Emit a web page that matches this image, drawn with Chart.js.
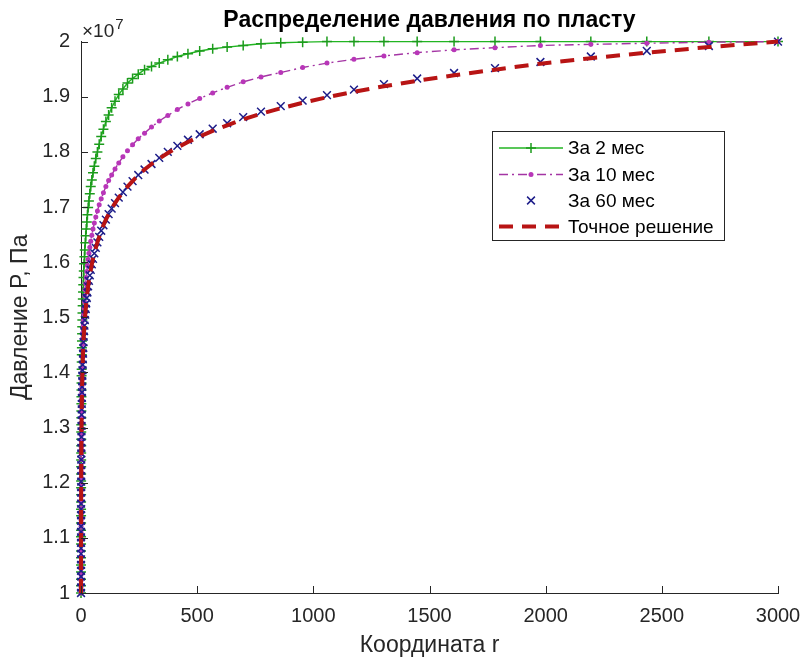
<!DOCTYPE html>
<html>
<head>
<meta charset="utf-8">
<title>Распределение давления по пласту</title>
<script src="https://cdn.jsdelivr.net/npm/chart.js"></script>
<style>
  html, body { margin: 0; padding: 0; background: #fff; }
</style>
</head>
<body>
<canvas id="pressureChart" width="803" height="659"></canvas>
<script>
// координата r, м (логарифмическая сетка)
const radius = [
  0.1, 0.111, 0.123, 0.137, 0.152, 0.168, 0.187, 0.207, 0.23, 0.255,
  0.283, 0.314, 0.349, 0.387, 0.43, 0.477, 0.529, 0.587, 0.652, 0.723,
  0.803, 0.891, 0.988, 1.097, 1.217, 1.351, 1.499, 1.663, 1.846, 2.048,
  2.273, 2.522, 2.799, 3.106, 3.447, 3.825, 4.245, 4.711, 5.228, 5.801,
  6.438, 7.144, 7.928, 8.798, 9.767, 10.84, 12.03, 13.35, 14.81, 16.44,
  18.24, 20.24, 22.47, 24.93, 27.67, 30.7, 34.07, 37.81, 41.96, 46.57,
  51.68, 57.35, 63.64, 70.62, 78.37, 86.97, 96.52, 107.1, 118.9, 131.9,
  146.4, 162.5, 180.3, 200.1, 222, 246.4, 273.5, 303.5, 336.8, 373.7,
  414.8, 460.3, 510.8, 566.8, 629, 698.1, 774.7, 859.7, 954, 1058.7,
  1174.9, 1303.8, 1446.9, 1605.7, 1781.9, 1977.4, 2194.4, 2435.2, 2702.5, 3000
];

// давление, x10^7 Па
const p2months = [
  1.000, 1.013, 1.025, 1.038, 1.051, 1.064, 1.076, 1.089, 1.102, 1.114,
  1.127, 1.140, 1.152, 1.165, 1.178, 1.191, 1.203, 1.216, 1.229, 1.241,
  1.254, 1.267, 1.279, 1.292, 1.305, 1.318, 1.330, 1.343, 1.356, 1.368,
  1.381, 1.394, 1.406, 1.419, 1.432, 1.445, 1.457, 1.470, 1.483, 1.495,
  1.508, 1.521, 1.533, 1.546, 1.559, 1.572, 1.584, 1.597, 1.610, 1.622,
  1.635, 1.648, 1.660, 1.673, 1.686, 1.699, 1.711, 1.724, 1.737, 1.749,
  1.762, 1.774, 1.788, 1.800, 1.814, 1.828, 1.841, 1.855, 1.867, 1.880,
  1.892, 1.904, 1.914, 1.925, 1.933, 1.941, 1.949, 1.955, 1.961, 1.967,
  1.973, 1.978, 1.983, 1.987, 1.990, 1.993, 1.996, 1.998, 1.999, 2.000,
  2.000, 2.000, 2.000, 2.000, 2.000, 2.000, 2.000, 2.000, 2.000, 2.000
];

const p10months = [
  1.000, 1.011, 1.022, 1.033, 1.044, 1.055, 1.066, 1.077, 1.088, 1.099,
  1.110, 1.121, 1.132, 1.143, 1.154, 1.165, 1.176, 1.187, 1.198, 1.209,
  1.220, 1.231, 1.242, 1.253, 1.264, 1.275, 1.286, 1.297, 1.308, 1.319,
  1.330, 1.341, 1.352, 1.363, 1.374, 1.385, 1.396, 1.407, 1.418, 1.429,
  1.440, 1.451, 1.462, 1.473, 1.484, 1.495, 1.506, 1.517, 1.528, 1.539,
  1.550, 1.561, 1.572, 1.583, 1.594, 1.605, 1.616, 1.627, 1.638, 1.649,
  1.660, 1.671, 1.682, 1.693, 1.704, 1.715, 1.726, 1.737, 1.748, 1.758,
  1.769, 1.780, 1.791, 1.802, 1.813, 1.824, 1.834, 1.845, 1.856, 1.866,
  1.877, 1.887, 1.897, 1.907, 1.917, 1.927, 1.936, 1.944, 1.953, 1.961,
  1.968, 1.974, 1.980, 1.985, 1.989, 1.993, 1.995, 1.997, 1.999, 2.000
];

const p60months = [
  1.000, 1.010, 1.020, 1.030, 1.040, 1.051, 1.061, 1.071, 1.081, 1.091,
  1.101, 1.111, 1.121, 1.131, 1.141, 1.152, 1.162, 1.172, 1.182, 1.192,
  1.202, 1.212, 1.222, 1.232, 1.242, 1.253, 1.263, 1.273, 1.283, 1.293,
  1.303, 1.313, 1.323, 1.333, 1.343, 1.354, 1.364, 1.374, 1.384, 1.394,
  1.404, 1.414, 1.424, 1.434, 1.444, 1.455, 1.465, 1.475, 1.485, 1.495,
  1.505, 1.515, 1.525, 1.535, 1.545, 1.556, 1.566, 1.576, 1.586, 1.596,
  1.606, 1.616, 1.626, 1.636, 1.646, 1.657, 1.667, 1.677, 1.687, 1.697,
  1.707, 1.717, 1.727, 1.737, 1.747, 1.758, 1.768, 1.778, 1.789, 1.800,
  1.811, 1.822, 1.832, 1.842, 1.852, 1.863, 1.873, 1.883, 1.893, 1.903,
  1.913, 1.923, 1.933, 1.943, 1.952, 1.963, 1.973, 1.983, 1.992, 2.000
];

const pExact = [
  1.000, 1.010, 1.020, 1.030, 1.040, 1.051, 1.061, 1.071, 1.081, 1.091,
  1.101, 1.111, 1.121, 1.131, 1.141, 1.152, 1.162, 1.172, 1.182, 1.192,
  1.202, 1.212, 1.222, 1.232, 1.242, 1.253, 1.263, 1.273, 1.283, 1.293,
  1.303, 1.313, 1.323, 1.333, 1.343, 1.354, 1.364, 1.374, 1.384, 1.394,
  1.404, 1.414, 1.424, 1.434, 1.444, 1.455, 1.465, 1.475, 1.485, 1.495,
  1.505, 1.515, 1.525, 1.535, 1.545, 1.556, 1.566, 1.576, 1.586, 1.596,
  1.606, 1.616, 1.626, 1.636, 1.646, 1.657, 1.667, 1.677, 1.687, 1.697,
  1.707, 1.717, 1.727, 1.737, 1.747, 1.758, 1.768, 1.778, 1.788, 1.798,
  1.808, 1.818, 1.828, 1.838, 1.848, 1.859, 1.869, 1.879, 1.889, 1.899,
  1.909, 1.919, 1.929, 1.939, 1.949, 1.960, 1.970, 1.980, 1.990, 2.000
];

const seriesNames = ['За 2 мес', 'За 10 мес', 'За 60 мес', 'Точное решение'];

const FONT = "'Liberation Sans', Arial, Helvetica, sans-serif";
const AXIS_COLOR = '#262626';

function toPoints(ys) {
  return radius.map((r, i) => ({ x: r, y: ys[i] }));
}

// засечки внутрь осей, множитель x10^7 и легенда внутри графика
const matlabLook = {
  id: 'matlabLook',
  afterDraw(chart) {
    const ctx = chart.ctx;
    const area = chart.chartArea;
    const xs = chart.scales.x;
    const ys = chart.scales.y;
    ctx.save();
    ctx.strokeStyle = AXIS_COLOR;
    ctx.lineWidth = 1;
    ctx.beginPath();
    xs.ticks.forEach(t => {
      const px = Math.round(xs.getPixelForValue(t.value)) + 0.5;
      ctx.moveTo(px, area.bottom);
      ctx.lineTo(px, area.bottom - 7);
    });
    ys.ticks.forEach(t => {
      const py = Math.round(ys.getPixelForValue(t.value)) + 0.5;
      ctx.moveTo(area.left, py);
      ctx.lineTo(area.left + 7, py);
    });
    ctx.stroke();

    // x10^7
    ctx.fillStyle = AXIS_COLOR;
    ctx.textBaseline = 'alphabetic';
    ctx.textAlign = 'left';
    ctx.font = '19px ' + FONT;
    ctx.fillText('\u00d710', area.left + 1, 37);
    const w = ctx.measureText('\u00d710').width;
    ctx.font = '15px ' + FONT;
    ctx.fillText('7', area.left + 2 + w, 29);

    // легенда
    const box = { x: 492.5, y: 131.5, w: 232, h: 109 };
    ctx.fillStyle = '#ffffff';
    ctx.fillRect(box.x, box.y, box.w, box.h);
    ctx.strokeStyle = AXIS_COLOR;
    ctx.lineWidth = 1;
    ctx.strokeRect(box.x, box.y, box.w, box.h);

    const rowY = [148, 174.5, 200.5, 226.5];
    const x0 = 499, x1 = 563, xm = 531;
    chart.data.datasets.forEach((ds, i) => {
      const y = rowY[i];
      ctx.save();
      if (ds.showLine !== false) {
        ctx.strokeStyle = ds.borderColor;
        ctx.lineWidth = ds.borderWidth;
        ctx.setLineDash(ds.borderDash || []);
        ctx.beginPath();
        ctx.moveTo(x0, y);
        ctx.lineTo(x1, y);
        ctx.stroke();
      }
      ctx.setLineDash([]);
      if (ds.pointRadius > 0) {
        ctx.strokeStyle = ds.pointBorderColor;
        ctx.fillStyle = ds.pointBackgroundColor;
        ctx.lineWidth = ds.pointBorderWidth;
        const r = ds.pointRadius;
        ctx.beginPath();
        if (ds.pointStyle === 'cross') {
          ctx.moveTo(xm - r, y); ctx.lineTo(xm + r, y);
          ctx.moveTo(xm, y - r); ctx.lineTo(xm, y + r);
          ctx.stroke();
        } else if (ds.pointStyle === 'crossRot') {
          const d = r * Math.SQRT1_2;
          ctx.moveTo(xm - d, y - d); ctx.lineTo(xm + d, y + d);
          ctx.moveTo(xm - d, y + d); ctx.lineTo(xm + d, y - d);
          ctx.stroke();
        } else {
          ctx.arc(xm, y, r, 0, Math.PI * 2);
          ctx.fill();
        }
      }
      ctx.restore();
      ctx.fillStyle = '#000000';
      ctx.font = '19px ' + FONT;
      ctx.textBaseline = 'middle';
      ctx.textAlign = 'left';
      ctx.fillText(ds.label, 568, y + 1);
    });
    ctx.restore();
  }
};

const pressureChart = new Chart(document.getElementById('pressureChart'), {
  type: 'line',
  data: {
    datasets: [
      {
        label: seriesNames[0],
        data: toPoints(p2months),
        borderColor: '#22b522',
        borderWidth: 1.4,
        pointStyle: 'cross',
        pointRadius: 5,
        pointBorderColor: '#1c9c1c',
        pointBackgroundColor: '#1c9c1c',
        pointBorderWidth: 1.5,
        order: 3
      },
      {
        label: seriesNames[1],
        data: toPoints(p10months),
        borderColor: '#a435a4',
        borderWidth: 1.4,
        borderDash: [9, 4, 2, 4],
        pointStyle: 'circle',
        pointRadius: 2.5,
        pointBorderColor: '#b836b8',
        pointBackgroundColor: '#b836b8',
        pointBorderWidth: 0,
        order: 2
      },
      {
        label: seriesNames[2],
        data: toPoints(p60months),
        showLine: false,
        borderColor: '#1e1e8a',
        pointStyle: 'crossRot',
        pointRadius: 5.5,
        pointBorderColor: '#1e1e8a',
        pointBackgroundColor: '#1e1e8a',
        pointBorderWidth: 1.5,
        order: 1
      },
      {
        label: seriesNames[3],
        data: toPoints(pExact),
        borderColor: '#b81414',
        borderWidth: 4,
        borderDash: [14, 9],
        pointRadius: 0,
        order: 0
      }
    ]
  },
  options: {
    responsive: false,
    animation: false,
    devicePixelRatio: 1,
    events: [],
    elements: { line: { tension: 0 } },
    datasets: { line: { clip: 10 } },
    layout: { padding: { left: 0, right: 25, top: 0, bottom: 0 } },
    plugins: {
      legend: { display: false },
      tooltip: { enabled: false },
      title: {
        display: true,
        fullSize: false,
        text: 'Распределение давления по пласту',
        color: '#000000',
        font: { family: FONT, size: 23, weight: 'bold' },
        padding: { top: 7, bottom: 7 }
      }
    },
    scales: {
      x: {
        type: 'linear',
        min: 0,
        max: 3000,
        ticks: {
          stepSize: 500,
          color: AXIS_COLOR,
          font: { family: FONT, size: 20 },
          padding: 11,
          maxRotation: 0,
          callback: v => String(v)
        },
        grid: { display: false, drawTicks: false },
        border: { display: true, color: AXIS_COLOR, width: 1 },
        title: {
          display: true,
          text: 'Координата r',
          color: AXIS_COLOR,
          font: { family: FONT, size: 23 },
          padding: { top: 0, bottom: 0 }
        },
        afterFit: s => {
          s.height = 66;
          s.paddingLeft = 0;
          s.paddingRight = 0;
        }
      },
      y: {
        type: 'linear',
        min: 1,
        max: 2,
        ticks: {
          stepSize: 0.1,
          color: AXIS_COLOR,
          font: { family: FONT, size: 20 },
          padding: 11,
          callback: v => String(Math.round(v * 10) / 10)
        },
        grid: { display: false, drawTicks: false },
        border: { display: true, color: AXIS_COLOR, width: 1 },
        title: {
          display: true,
          text: 'Давление P, Па',
          color: AXIS_COLOR,
          font: { family: FONT, size: 23 },
          padding: { top: 7, bottom: 0 }
        },
        afterFit: s => {
          s.width = 81;
          s.paddingTop = 0;
          s.paddingBottom = 0;
        }
      }
    }
  },
  plugins: [matlabLook]
});
</script>
</body>
</html>
